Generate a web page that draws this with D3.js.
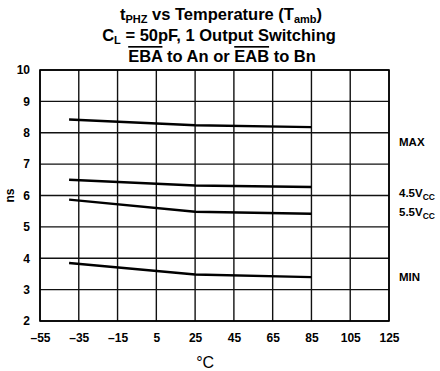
<!DOCTYPE html>
<html><head><meta charset="utf-8">
<script src="https://cdn.jsdelivr.net/npm/d3@7"></script>
<style>body{margin:0;background:#fff}svg{font-family:"Liberation Sans",Arial,sans-serif;font-weight:bold}</style>
</head><body><svg id="c" width="440" height="371"></svg>
<script>
const temps = [-40, 25, 85];
const maxVals = [8.42, 8.24, 8.18];
const v45Vals = [6.5, 6.32, 6.27];
const v55Vals = [5.87, 5.48, 5.42];
const minVals = [3.85, 3.48, 3.4];
const xTicks = [-55, -35, -15, 5, 25, 45, 65, 85, 105, 125];
const yTicks = [2, 3, 4, 5, 6, 7, 8, 9, 10];
const seriesLabels = ["MAX", "4.5V", "5.5V", "MIN"];

const svg = d3.select("#c");
const x = d3.scaleLinear().domain([-55, 125]).range([40, 389]);
const y = d3.scaleLinear().domain([2, 10]).range([321, 70]);

// grid
svg.append("g").selectAll("line").data(xTicks).join("line")
  .attr("x1", d => x(d)).attr("x2", d => x(d)).attr("y1", y(10)).attr("y2", y(2))
  .attr("stroke", "#111").attr("stroke-width", 1.4);
svg.append("g").selectAll("line").data(yTicks).join("line")
  .attr("x1", x(-55)).attr("x2", x(125)).attr("y1", d => y(d)).attr("y2", d => y(d))
  .attr("stroke", "#111").attr("stroke-width", 1.4);
svg.append("rect").attr("x", x(-55)).attr("y", y(10)).attr("width", x(125) - x(-55)).attr("height", y(2) - y(10))
  .attr("fill", "none").attr("stroke", "#000").attr("stroke-width", 1.6);

// axes tick labels
const xAxis = d3.axisBottom(x).tickValues(xTicks).tickSize(0).tickPadding(12)
  .tickFormat(d => d < 0 ? "\u2013" + Math.abs(d) : d);
const gx = svg.append("g").attr("transform", `translate(0,${y(2)})`).call(xAxis);
gx.select(".domain").remove();
gx.selectAll("text").attr("font-size", 12).attr("font-weight", "bold").attr("font-family", "Liberation Sans, Arial, sans-serif").attr("fill", "#000");

const yAxis = d3.axisLeft(y).tickValues(yTicks).tickSize(0).tickPadding(10);
const gy = svg.append("g").attr("transform", `translate(${x(-55)},0)`).call(yAxis);
gy.select(".domain").remove();
gy.selectAll("text").attr("font-size", 12).attr("font-weight", "bold").attr("font-family", "Liberation Sans, Arial, sans-serif").attr("fill", "#000");

// series
const line = d3.line().x((d, i) => x(temps[i])).y(d => y(d));
[maxVals, v45Vals, v55Vals, minVals].forEach(s => {
  svg.append("path").attr("d", line(s)).attr("fill", "none").attr("stroke", "#000").attr("stroke-width", 2.4);
});

// series labels
const lab = svg.append("g").attr("font-size", 11.5).attr("fill", "#000");
lab.append("text").attr("x", 399).attr("y", 146).text(seriesLabels[0]);
const t45 = lab.append("text").attr("x", 399).attr("y", 197);
t45.append("tspan").text(seriesLabels[1]);
t45.append("tspan").attr("font-size", 8.5).attr("dy", 3).text("CC");
const t55 = lab.append("text").attr("x", 399).attr("y", 216);
t55.append("tspan").text(seriesLabels[2]);
t55.append("tspan").attr("font-size", 8.5).attr("dy", 3).text("CC");
lab.append("text").attr("x", 399).attr("y", 281).text(seriesLabels[3]);

// axis titles
svg.append("text").attr("transform", `translate(14,${(y(2)+y(10))/2}) rotate(-90)`).attr("text-anchor", "middle")
  .attr("font-size", 12).text("ns");
svg.append("text").attr("x", x(25)+10).attr("y", 368).attr("text-anchor", "middle").attr("font-size", 16).attr("font-weight", "normal").text("\u00B0C");

// title
const tf = 16.5, sf = 11;
const t1 = svg.append("text").attr("x", 221).attr("y", 20).attr("text-anchor", "middle").attr("font-size", tf);
t1.append("tspan").text("t");
t1.append("tspan").attr("font-size", sf).attr("dy", 3).text("PHZ");
t1.append("tspan").attr("dy", -3).text(" vs Temperature (T");
t1.append("tspan").attr("font-size", sf).attr("dy", 3).text("amb");
t1.append("tspan").attr("dy", -3).text(")");
const t2 = svg.append("text").attr("x", 219).attr("y", 41).attr("text-anchor", "middle").attr("font-size", tf);
t2.append("tspan").text("C");
t2.append("tspan").attr("font-size", sf).attr("dy", 3).text("L");
t2.append("tspan").attr("dy", -3).text(" = 50pF, 1 Output Switching");
const t3 = svg.append("text").attr("x", 222).attr("y", 62).attr("text-anchor", "middle").attr("font-size", tf);
t3.append("tspan").style("text-decoration", "overline").text("EBA");
t3.append("tspan").text(" to An or ");
t3.append("tspan").style("text-decoration", "overline").text("EAB");
t3.append("tspan").text(" to Bn");
</script></body></html>
